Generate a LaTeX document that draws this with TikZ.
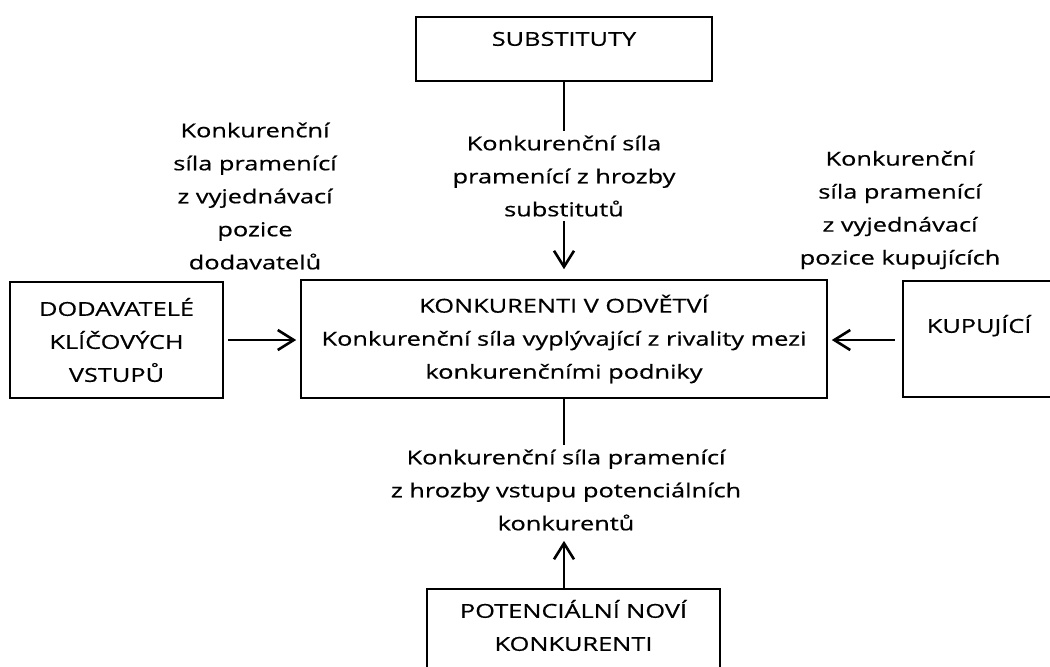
\documentclass[tikz,border=0pt]{standalone}
\usepackage{fontspec}
\setmainfont{Open Sans}[FakeStretch=1.32,FakeBold=0.6]
\usetikzlibrary{arrows.meta}
\begin{document}
\begin{tikzpicture}[x=0.5pt,y=-0.5pt,
  box/.style={draw=black, line width=0.8pt, inner sep=0pt, align=center},
  lbl/.style={align=center, inner sep=2pt},
  conn/.style={line width=1.4pt},
  arr/.style={conn, -{Straight Barb[length=8pt,width=10pt,line width=1.3pt]}},
  font=\fontsize{9.6pt}{16.5pt}\selectfont]
\useasboundingbox (0,0) rectangle (1050,666);
\clip (0,0) rectangle (1050,666);
\fill[white] (0,0) rectangle (1050,666);

\node[box, anchor=north, minimum width=148pt, text height=14.5pt, text depth=17.5pt] (sub) at (564,16) {SUBSTITUTY};
\node[box, minimum width=263pt, minimum height=59pt] (kon) at (564,339) {KONKURENTI V ODVĚTVÍ\\Konkurenční síla vyplývající z rivality mezi\\konkurenčními podniky};
\node[box, minimum width=106.5pt, minimum height=58pt] (dod) at (116.5,340) {DODAVATELÉ\\KLÍČOVÝCH\\VSTUPŮ};
\node[box, anchor=north west, text width=80pt, inner xsep=12pt, align=left, text height=26pt, text depth=32pt] (kup) at (902,280) {KUPUJÍCÍ};
\node[box, anchor=north, text width=146.5pt, text height=14.5pt, text depth=60pt] (pot) at (573.5,588) {POTENCIÁLNÍ NOVÍ\\KONKURENTI};

\node[lbl] (lsub) at (564,176) {Konkurenční síla\\pramenící z hrozby\\substitutů};
\node[lbl] (ldod) at (255,196) {Konkurenční\\síla pramenící\\z vyjednávací\\pozice\\dodavatelů};
\node[lbl] (lkup) at (900,210) {Konkurenční\\síla pramenící\\z vyjednávací\\pozice kupujících};
\node[lbl] (lpot) at (566,490) {Konkurenční síla pramenící\\z hrozby vstupu potenciálních\\konkurentů};

\draw[conn] (sub.south) -- (sub.south |- lsub.north);
\draw[arr, shorten >=5pt] (lsub.south -| kon.north) -- (kon.north);
\draw[conn] (kon.south) -- (kon.south |- lpot.north);
\draw[arr, shorten >=3pt] (pot.north -| kon.south) -- (kon.south |- lpot.south);
\draw[arr, shorten <=2pt, shorten >=2pt] (dod.east) -- (dod.east -| kon.west);
\draw[arr, shorten <=3.5pt, shorten >=2pt] (kup.west |- dod.east) -- (kon.east |- dod.east);
\end{tikzpicture}
\end{document}
